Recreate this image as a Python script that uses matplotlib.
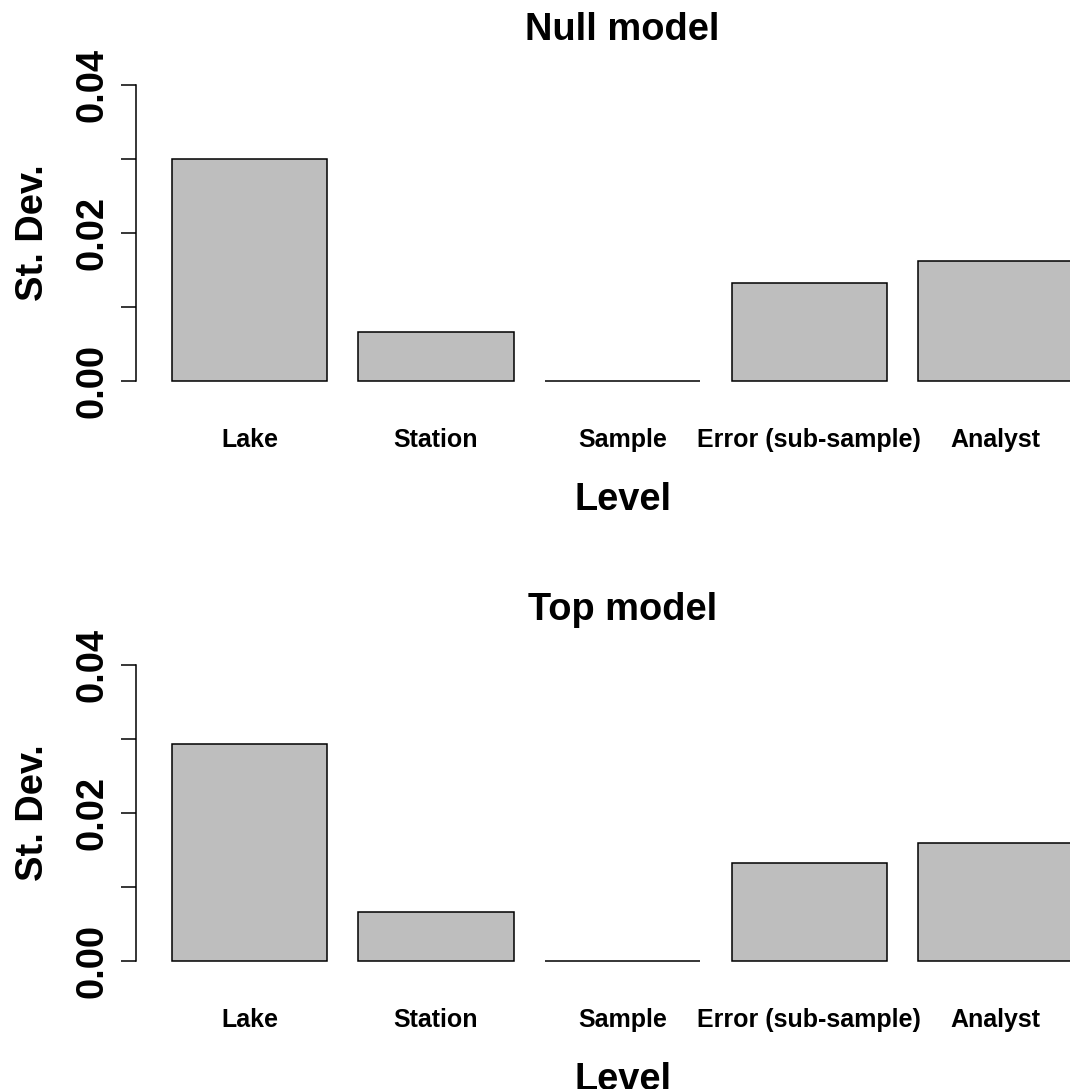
import matplotlib
matplotlib.use("Agg")
import matplotlib.pyplot as plt

plt.rcParams["font.family"] = ["Liberation Sans", "DejaVu Sans"]
plt.rcParams["font.weight"] = "bold"

levels = ["Lake", "Station", "Sample", "Error (sub-sample)", "Analyst"]
null_sd = [0.0300, 0.00662, 0.0, 0.01316, 0.01618]
top_sd = [0.02932, 0.00662, 0.0, 0.01316, 0.0159]
panel_titles = ["Null model", "Top model"]
y_ticks = [0.0, 0.01, 0.02, 0.03, 0.04]
y_tick_labels = ["0.00", "", "0.02", "", "0.04"]

W, H = 1070, 1089
fig = plt.figure(figsize=(W / 100, H / 100), dpi=100)

# R barplot geometry: width 1, space 0.2 -> bars from 0.2 to 6.0, 4% padding
lefts = [0.2 + 1.2 * i for i in range(len(levels))]
centers = [l + 0.5 for l in lefts]
xlim = (0.2 - 0.04 * 5.8, 6.0 + 0.04 * 5.8)
ylim = (-0.04 * 0.04, 0.04 * 1.04)

ax_left = 135.6 / W
ax_width = (1109.7 - 135.6) / W
ax_height = (392.5 - 72.9) / H
bottoms = [(H - 392.5) / H, (H - 972.5) / H]

for title, values, bottom in zip(panel_titles, [null_sd, top_sd], bottoms):
    ax = fig.add_axes([ax_left, bottom, ax_width, ax_height])
    ax.bar(lefts, values, width=1.0, align="edge", color="#bebebe",
           edgecolor="black", linewidth=1.1)
    ax.set_xlim(*xlim)
    ax.set_ylim(*ylim)

    for side in ["top", "right", "bottom"]:
        ax.spines[side].set_visible(False)
    ax.spines["left"].set_bounds(0, 0.04)
    ax.spines["left"].set_linewidth(1.1)

    ax.set_yticks(y_ticks)
    ax.set_yticklabels(y_tick_labels, rotation=90, va="center", fontsize=27.4,
                       fontweight="bold")
    ax.tick_params(axis="y", length=10.8, width=1.1, pad=7)

    ax.set_xticks(centers)
    ax.set_xticklabels(levels, fontsize=18, fontweight="bold")
    ax.tick_params(axis="x", length=0, pad=25.5)

    ax.set_title(title, fontsize=27.4, fontweight="bold", pad=23.8)
    ax.set_ylabel("St. Dev.", fontsize=27.4, fontweight="bold")
    ax.yaxis.set_label_coords((51 - 135.6) / (1109.7 - 135.6), 0.5)
    ax.set_xlabel("Level", fontsize=27.4, fontweight="bold")
    ax.xaxis.set_label_coords(0.5, (392.5 - 482.5) / (392.5 - 72.9))

fig.savefig("out.png", dpi=100)
